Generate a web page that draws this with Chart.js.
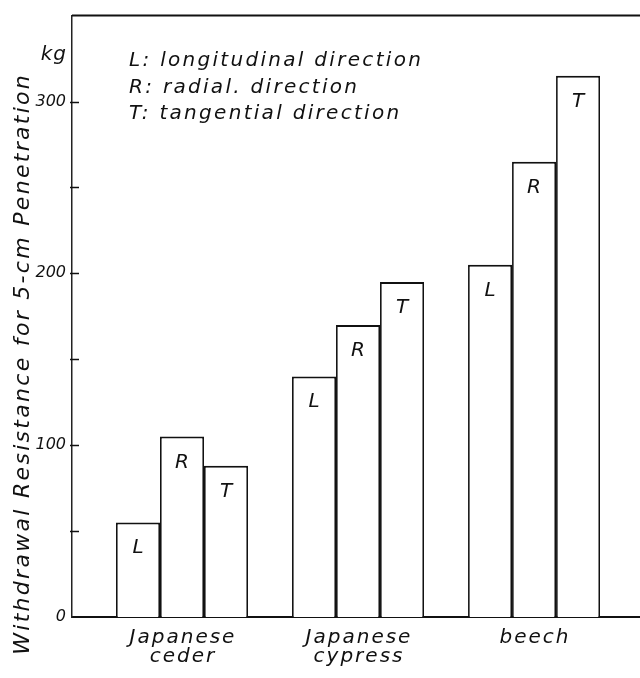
<!DOCTYPE html>
<html>
<head>
<meta charset="utf-8">
<script src="https://cdn.jsdelivr.net/npm/chart.js@4/dist/chart.umd.min.js"></script>
<style>
  html, body { margin: 0; padding: 0; background: #fff; }
  canvas { display: block; }
</style>
</head>
<body>
<canvas id="chart" width="640" height="678"></canvas>
<script>
// Wood species along the x axis (each entry is one label, split over lines)
const species = [['Japanese', 'ceder'], ['Japanese', 'cypress'], ['beech']];
// Nail direction letters and their key
const directions = ['L', 'R', 'T'];
const directionKey = ['L: longitudinal direction', 'R: radial. direction', 'T: tangential direction'];
// Withdrawal resistance (kg) per species, one array per direction
const longitudinal = [55, 140, 205];
const radial = [105, 170, 265];
const tangential = [88, 195, 315];
// Labelled values on the resistance axis
const yLabelled = [0, 100, 200, 300];
const yTitle = 'Withdrawal Resistance for 5-cm Penetration';
const yUnit = 'kg';

const FACE = '"DejaVu Sans", sans-serif';

function drawText(ctx, s, x, y, size, spacing, align) {
  ctx.save();
  ctx.font = 'italic ' + size + 'px ' + FACE;
  ctx.letterSpacing = spacing + 'px';
  ctx.fillStyle = '#111';
  ctx.textAlign = align;
  ctx.textBaseline = 'alphabetic';
  let dx = 0;
  if (align === 'center') dx = spacing / 2;
  if (align === 'right') dx = spacing;
  ctx.fillText(s, x + dx, y);
  ctx.restore();
}

const lettering = {
  id: 'lettering',
  beforeDatasetsDraw(chart) {
    const { ctx, chartArea, scales } = chart;
    const y = scales.y;
    // frame line along the top
    ctx.save();
    ctx.strokeStyle = '#111';
    ctx.lineWidth = 2;
    ctx.beginPath();
    ctx.moveTo(chartArea.left, chartArea.top);
    ctx.lineTo(chart.width, chartArea.top);
    ctx.stroke();
    // inward tick marks on the resistance axis
    ctx.lineWidth = 1.5;
    y.ticks.forEach(t => {
      if (t.value <= 0 || t.value >= y.max) return;
      const py = Math.round(y.getPixelForValue(t.value)) + 0.5;
      ctx.beginPath();
      ctx.moveTo(chartArea.left - 2, py);
      ctx.lineTo(chartArea.left + 7, py);
      ctx.stroke();
    });
    ctx.restore();
  },
  afterDatasetsDraw(chart) {
    const { ctx, scales } = chart;
    const x = scales.x;
    // direction letter inside each bar
    chart.data.datasets.forEach((ds, di) => {
      chart.getDatasetMeta(di).data.forEach(bar => {
        drawText(ctx, ds.label, bar.x, bar.y + 31, 20, 0, 'center');
      });
    });
    // species names under the groups
    species.forEach((lines, i) => {
      const px = x.getPixelForValue(i);
      lines.forEach((line, j) => {
        drawText(ctx, line, px, 643 + j * 19, 20, 2, 'center');
      });
    });
    // key of direction letters
    directionKey.forEach((line, i) => {
      drawText(ctx, line, 129, 66 + i * 26.5, 20, 2.3, 'left');
    });
    // unit above the axis
    drawText(ctx, yUnit, 66, 60, 20, 1, 'right');
    // rotated axis title
    ctx.save();
    ctx.translate(29, 365);
    ctx.rotate(-Math.PI / 2);
    drawText(ctx, yTitle, 0, 0, 22, 2.3, 'center');
    ctx.restore();
  }
};

const barStyle = {
  backgroundColor: '#ffffff',
  borderColor: '#111',
  borderWidth: { top: 2, left: 1.75, right: 1.75, bottom: 0 },
  borderSkipped: false
};

const series = [longitudinal, radial, tangential];

new Chart(document.getElementById('chart'), {
  type: 'bar',
  data: {
    datasets: series.map((vals, k) => Object.assign({
      label: directions[k],
      data: vals.map((v, i) => ({ x: i, y: v }))
    }, barStyle))
  },
  options: {
    responsive: false,
    animation: false,
    devicePixelRatio: 1,
    layout: { padding: { top: 8, right: 0, bottom: 0, left: 0 } },
    datasets: { bar: { categoryPercentage: 0.75, barPercentage: 1 } },
    scales: {
      x: {
        type: 'linear',
        min: -0.625,
        max: 2.602,
        offset: false,
        grid: { display: false, drawTicks: false },
        border: { display: true, color: '#111', width: 2 },
        ticks: { display: false },
        // one tick per species so the bar groups get full category width
        afterBuildTicks(s) { s.ticks = species.map((_, i) => ({ value: i })); },
        afterFit(s) { s.height = 61; }
      },
      y: {
        min: 0,
        max: 350,
        grid: { display: false, drawTicks: false },
        border: { display: true, color: '#222', width: 1.5 },
        ticks: {
          stepSize: 50,
          padding: 6,
          color: '#111',
          font: { family: FACE, size: 16, style: 'italic' },
          callback: v => (yLabelled.includes(v) ? String(v) : '')
        },
        afterFit(s) { s.width = 72; }
      }
    },
    plugins: {
      legend: { display: false },
      tooltip: { enabled: false }
    }
  },
  plugins: [lettering]
});
</script>
</body>
</html>
